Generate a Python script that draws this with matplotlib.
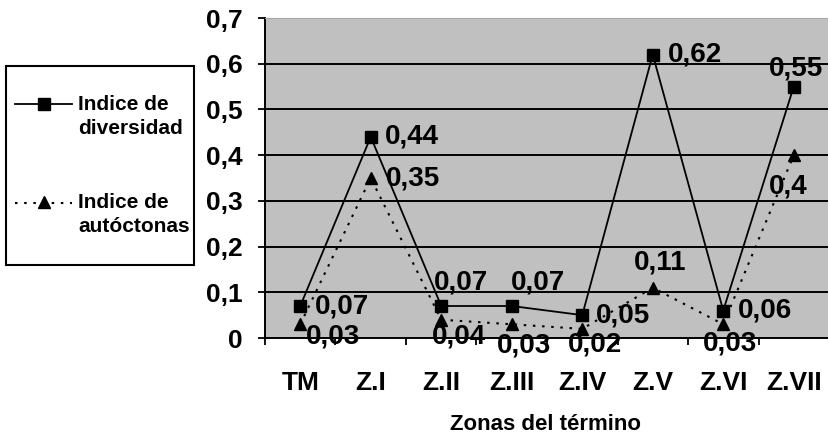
import numpy as np
import matplotlib.pyplot as plt
from matplotlib.lines import Line2D
from matplotlib.patches import Rectangle

plt.rcParams['font.family'] = ['Liberation Sans', 'DejaVu Sans']
plt.rcParams['font.weight'] = 'bold'

zonas = ['TM', 'Z.I', 'Z.II', 'Z.III', 'Z.IV', 'Z.V', 'Z.VI', 'Z.VII']
indice_diversidad = [0.07, 0.44, 0.07, 0.07, 0.05, 0.62, 0.06, 0.55]
indice_autoctonas = [0.03, 0.35, 0.04, 0.03, 0.02, 0.11, 0.03, 0.40]
y_ticks = [0, 0.1, 0.2, 0.3, 0.4, 0.5, 0.6, 0.7]

# label offsets in pixels (dx, dy, ha) for each point
div_offsets = [(15, 0, 'left'), (14, 0, 'left'), (20, 24, 'center'),
               (26, 24, 'center'), (14, 0, 'left'), (15, 0, 'left'),
               (15, 0, 'left'), (2, 18, 'center')]
aut_offsets = [(33, -12, 'center'), (15, 0, 'left'), (18, -17, 'center'),
               (12, -21, 'center'), (13, -16, 'center'), (7, 25, 'center'),
               (7, -19, 'center'), (-6, -31, 'center')]

DOTTED = (0, (1.2, 3.2))


def fmt(v):
    return f"{v:g}".replace('.', ',')


W, H = 829, 438
fig = plt.figure(figsize=(W / 100, H / 100), dpi=100)
ax = fig.add_axes([265 / W, 1 - 338 / H, 564 / W, 320 / H])
ax.set_facecolor('#c0c0c0')

x = np.arange(len(zonas))
ax.plot(x, indice_diversidad, color='black', lw=1.3, marker='s', ms=8.5,
        zorder=4, clip_on=False)
ax.plot(x, indice_autoctonas, color='black', lw=1.5, ls=DOTTED,
        marker='^', ms=8.5, zorder=4, clip_on=False)

for vals, offsets in ((indice_diversidad, div_offsets),
                      (indice_autoctonas, aut_offsets)):
    for xi, v, (dx, dy, ha) in zip(x, vals, offsets):
        ax.annotate(fmt(v), (xi, v), xytext=(dx, dy), textcoords='offset pixels',
                    ha=ha, va='center', fontsize=20, fontweight='bold',
                    zorder=5, annotation_clip=False)

ax.set_xlim(-0.5, len(zonas) - 0.5)
ax.set_ylim(0, 0.7)
for t in y_ticks[1:-1]:
    ax.axhline(t, color='black', lw=1.4, zorder=1)

ax.set_yticks(y_ticks)
ax.set_yticklabels([fmt(t) for t in y_ticks], fontsize=19, fontweight='bold')
ax.tick_params(axis='y', length=5, width=1.3, pad=11)

ax.set_xticks(x)
ax.set_xticklabels(zonas, fontsize=19, fontweight='bold')
ax.set_xticks(np.arange(len(zonas) + 1) - 0.5, minor=True)
ax.tick_params(axis='x', which='major', length=0, pad=24)
ax.tick_params(axis='x', which='minor', length=5, width=1.3)

ax.spines['left'].set_linewidth(1.4)
ax.spines['bottom'].set_linewidth(1.4)
ax.spines['top'].set_color('#a8a8a8')
ax.spines['right'].set_visible(False)

fig.text(545 / W, 1 - 424 / H, 'Zonas del término', fontsize=16,
         fontweight='bold', ha='center', va='center')

# legend drawn in figure pixel coordinates
lg = fig.add_axes([0, 0, 1, 1], zorder=10)
lg.set_xlim(0, W)
lg.set_ylim(H, 0)
lg.axis('off')
lg.add_patch(Rectangle((6, 66), 188, 199, facecolor='white',
                       edgecolor='black', lw=1.5))
lg.add_line(Line2D([15, 72], [104, 104], color='black', lw=1.3))
lg.plot([44], [104], 's', color='black', ms=8.5)
lg.add_line(Line2D([15, 72], [203, 203], color='black', lw=1.5, ls=DOTTED))
lg.plot([44], [202], '^', color='black', ms=8.5)
lg.text(78, 104, 'Indice de', fontsize=15, fontweight='bold', va='center')
lg.text(78, 128, 'diversidad', fontsize=15, fontweight='bold', va='center')
lg.text(78, 202, 'Indice de', fontsize=15, fontweight='bold', va='center')
lg.text(78, 227, 'autóctonas', fontsize=15, fontweight='bold', va='center')

fig.savefig('out.png', dpi=100)
